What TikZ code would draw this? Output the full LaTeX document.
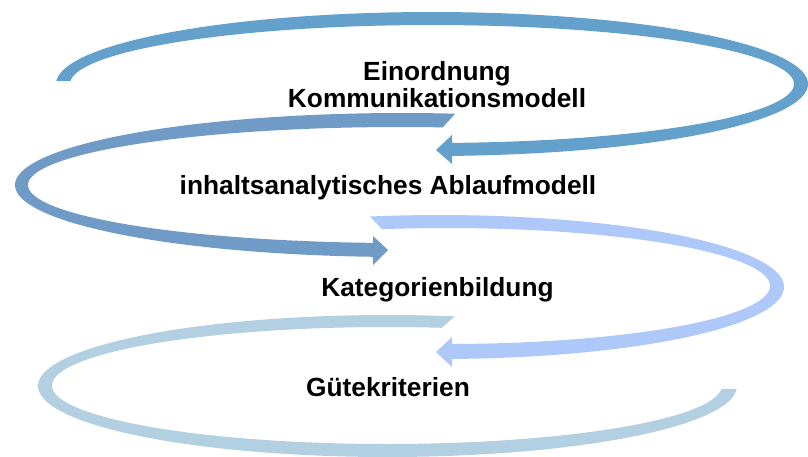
\documentclass[tikz,border=0pt]{standalone}
\usepackage{fontspec}
\setmainfont{Liberation Sans}
\definecolor{arrA}{HTML}{63A0CB}
\definecolor{arrB}{HTML}{709BC7}
\definecolor{arrC}{HTML}{AEC8FA}
\definecolor{arrD}{HTML}{B3CFE2}
\tikzset{
  band/.style={draw=none},
  lbl/.style={font=\fontsize{26.3}{27}\selectfont\bfseries, inner sep=0pt, anchor=base, align=center}
}
\begin{document}
\begin{tikzpicture}[x=1pt,y=-1pt]
\useasboundingbox (0,0) rectangle (808,456);
% arrow 1 (top)
\fill[band,arrA] plot[domain=182.39:446.95,samples=160,variable=\t] ({432+376*cos(\t)},{84+72*sin(\t)})
  -- (452,164) -- (436,150) -- (452,135)
  -- plot[domain=446.83:182.9,samples=160,variable=\t] ({432+362*cos(\t)},{84+59*sin(\t)}) -- cycle;
% arrow 2
\fill[band,arrB] plot[domain=277.9:94.3,samples=120,variable=\t] ({402+387*cos(\t)},{185+72*sin(\t)})
  -- (373,265) -- (388,250) -- (373,236)
  -- plot[domain=94.16:276.6,samples=120,variable=\t] ({400+372*cos(\t)},{185+58*sin(\t)}) -- cycle;
% arrow 3
\fill[band,arrC] plot[domain=258.26:448.0,samples=120,variable=\t] ({440+344*cos(\t)},{287+72*sin(\t)})
  -- (452,367) -- (436,352) -- (452,337)
  -- plot[domain=448.94:258.6,samples=120,variable=\t] ({446+324*cos(\t)},{286+58*sin(\t)}) -- cycle;
% arrow 4 (bottom)
\fill[band,arrD] plot[domain=281.1:2.4,samples=160,variable=\t] ({387.5+349.5*cos(\t)},{386+71*sin(\t)})
  -- plot[domain=3.4:279.4,samples=160,variable=\t] ({387+335*cos(\t)},{385.5+58.5*sin(\t)}) -- cycle;
% labels
\node[lbl] (t1) at (437,107) {Einordnung\\Kommunikationsmodell};
\node[lbl] (t2) at (388,194) {inhaltsanalytisches Ablaufmodell};
\node[lbl] (t3) at (437.5,296) {Kategorienbildung};
\node[lbl] (t4) at (388,396) {Gütekriterien};
\end{tikzpicture}
\end{document}
